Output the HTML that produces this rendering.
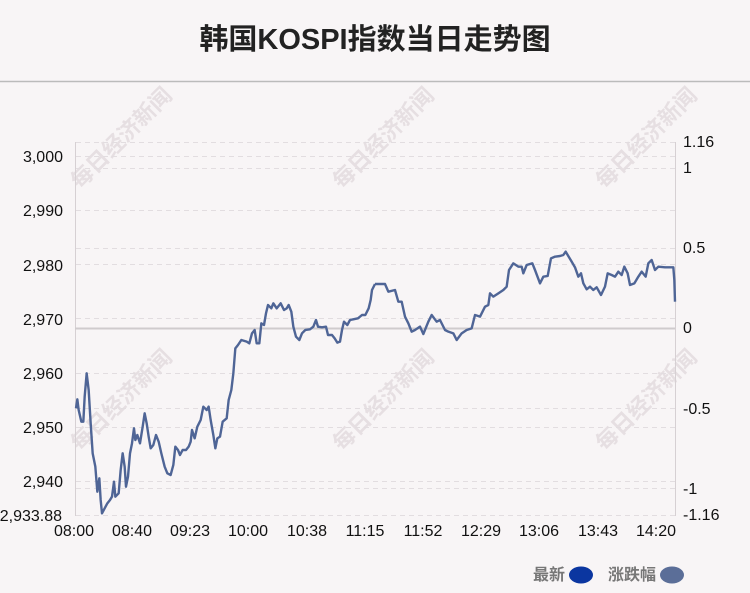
<!DOCTYPE html>
<html><head><meta charset="utf-8"><style>
html,body{margin:0;padding:0;background:#f8f5f6;}
body{width:750px;height:593px;position:relative;overflow:hidden;font-family:"Liberation Sans","Noto Sans CJK SC",sans-serif;}
</style></head><body>
<svg width="750" height="593" viewBox="0 0 750 593" xmlns="http://www.w3.org/2000/svg" style="position:absolute;left:0;top:0;font-family:'Liberation Sans','Noto Sans CJK SC',sans-serif">
<rect width="750" height="593" fill="#f8f5f6"/>
<text x="375" y="49" text-anchor="middle" font-size="29" font-weight="bold" fill="#222">韩国KOSPI指数当日走势图</text>
<line x1="0" y1="81.5" x2="750" y2="81.5" stroke="#bbb" stroke-width="1.5"/>
<g fill="#e6dfe2" font-size="22" font-weight="bold">
<text transform="translate(80,190) rotate(-45)">每日经济新闻</text>
<text transform="translate(342,190) rotate(-45)">每日经济新闻</text>
<text transform="translate(605,190) rotate(-45)">每日经济新闻</text>
<text transform="translate(80,452) rotate(-45)">每日经济新闻</text>
<text transform="translate(342,452) rotate(-45)">每日经济新闻</text>
<text transform="translate(605,452) rotate(-45)">每日经济新闻</text>
</g>
<g stroke="#e2dde0" stroke-width="1" stroke-dasharray="5,4">
<line x1="76" y1="142.5" x2="675" y2="142.5"/>
<line x1="76" y1="156.5" x2="675" y2="156.5"/>
<line x1="76" y1="168.5" x2="675" y2="168.5"/>
<line x1="76" y1="210.5" x2="675" y2="210.5"/>
<line x1="76" y1="248.5" x2="675" y2="248.5"/>
<line x1="76" y1="264.5" x2="675" y2="264.5"/>
<line x1="76" y1="318.5" x2="675" y2="318.5"/>
<line x1="76" y1="373.5" x2="675" y2="373.5"/>
<line x1="76" y1="408.5" x2="675" y2="408.5"/>
<line x1="76" y1="427.5" x2="675" y2="427.5"/>
<line x1="76" y1="481.5" x2="675" y2="481.5"/>
<line x1="76" y1="488.5" x2="675" y2="488.5"/>
<line x1="76" y1="515.5" x2="675" y2="515.5"/>
</g>
<line x1="75.5" y1="142" x2="75.5" y2="516" stroke="#d6d0d3"/>
<line x1="675.5" y1="142" x2="675.5" y2="516" stroke="#d6d0d3"/>
<line x1="75" y1="328.5" x2="675" y2="328.5" stroke="#cfcbcd" stroke-width="2"/>
<g font-size="16" fill="#111" text-anchor="end">
<text x="63" y="162">3,000</text>
<text x="63" y="216">2,990</text>
<text x="63" y="271">2,980</text>
<text x="63" y="325">2,970</text>
<text x="63" y="379">2,960</text>
<text x="63" y="433">2,950</text>
<text x="63" y="487">2,940</text>
<text x="62" y="521">2,933.88</text>
</g>
<g font-size="16" fill="#111">
<text x="683" y="147">1.16</text>
<text x="683" y="173">1</text>
<text x="683" y="253">0.5</text>
<text x="683" y="333">0</text>
<text x="683" y="414">-0.5</text>
<text x="683" y="494">-1</text>
<text x="683" y="520">-1.16</text>
</g>
<g font-size="16" fill="#111" text-anchor="middle">
<text x="74" y="536">08:00</text><text x="132" y="536">08:40</text><text x="190" y="536">09:23</text>
<text x="248" y="536">10:00</text><text x="307" y="536">10:38</text><text x="365" y="536">11:15</text>
<text x="423" y="536">11:52</text><text x="481" y="536">12:29</text><text x="539" y="536">13:06</text>
<text x="598" y="536">13:43</text><text x="656" y="536">14:20</text>
</g>
<g fill="none" stroke="#4f6596" stroke-width="2.4" stroke-linejoin="round">
<polyline vector-effect="non-scaling-stroke" transform="translate(0,130) scale(0.33333)" points="228,835 232,808 236,840 244,875 250,875 254,800 260,730 266,780 272,880 278,970 286,1010 292,1085 298,1045 302,1110 306,1150 314,1135 322,1120 330,1110 336,1100 342,1055 346,1100 356,1090 362,1020 368,970 374,1010 378,1070 384,1040 390,970 396,940 402,895 406,930 412,915 420,940 428,890 434,850 440,880 446,920 452,955 460,945 468,915 476,935 484,970 494,1010 502,1030 512,1035 520,1005 526,950 534,960 540,975 548,960 558,960 566,950 572,935 576,900 584,925 592,890 602,870 610,830 620,840 626,830 632,870 640,915 646,955 652,925 660,920 668,875 680,865 686,810 694,780 700,730 706,655 714,645 724,630 740,635 748,640 756,610 764,600 770,640 778,640 784,580 792,585 798,550 804,525 814,535 820,520 830,535 842,520 852,540 860,535 866,525 874,545 880,590 888,620 898,630 906,610 916,600 930,598 940,590 948,570 954,590 966,592 978,590 984,615 996,615 1004,625 1012,638 1020,635 1026,600 1032,575 1042,585 1050,570 1060,568 1074,565 1086,555 1096,555 1106,535 1112,510 1116,480 1125,462"/>
<polyline vector-effect="non-scaling-stroke" transform="translate(375,130) scale(0.33333)" points="0,462 30,462 40,485 60,480 70,515 80,515 90,560 100,580 110,605 120,600 135,590 145,612 160,575 170,555 185,575 195,570 210,600 220,605 235,610 245,630 260,610 275,600 290,595 300,555 315,560 330,530 340,525 345,490 355,500 370,490 385,480 395,470 402,420 415,400 430,410 440,410 445,430 455,405 472,400 480,420 495,460 505,440 518,438 528,385 540,380 555,378 565,375 572,365 590,395 600,412 610,440 618,430 625,460 635,478 645,470 655,480 665,472 678,495 690,470 698,430 710,435 720,440 730,425 740,435 748,410 758,430 765,465 778,460 790,440 800,425 812,440 820,400 830,390 840,420 850,410 870,412 895,412 898,450 900,515"/>
</g>
<g font-size="16" font-weight="bold" fill="#777">
<text x="533" y="580">最新</text>
<text x="608" y="580">涨跌幅</text>
</g>
<ellipse cx="581" cy="575" rx="12" ry="8.5" fill="#0b36a0"/>
<ellipse cx="672" cy="575" rx="12" ry="8.5" fill="#5b6e98"/>
</svg>
</body></html>
